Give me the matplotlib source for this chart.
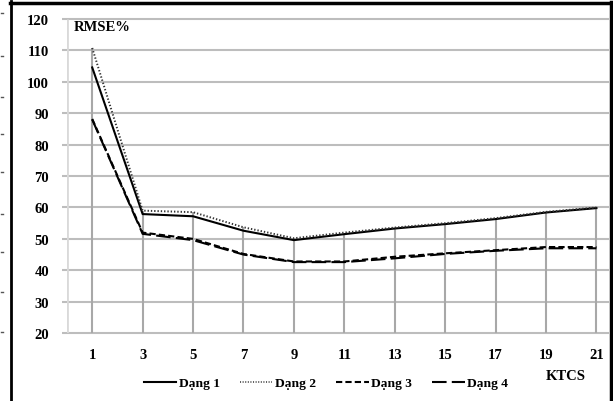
import matplotlib
matplotlib.use("Agg")
import matplotlib.pyplot as plt
from matplotlib.lines import Line2D

# KTCS values and RMSE% per form
ktcs = [1, 3, 5, 7, 9, 11, 13, 15, 17, 19, 21]
dang1 = [104.6, 57.9, 57.2, 52.6, 49.6, 51.5, 53.3, 54.7, 56.3, 58.4, 59.8]
dang2 = [110.8, 59.0, 58.5, 53.7, 50.2, 52.0, 53.6, 55.0, 56.6, 58.6, 60.0]
dang3 = [88.2, 52.0, 50.0, 45.2, 42.8, 42.8, 44.3, 45.4, 46.4, 47.4, 47.4]
dang4 = [88.0, 51.6, 49.6, 45.0, 42.6, 42.6, 43.8, 45.2, 46.2, 47.0, 47.0]
labels = ["Dạng 1", "Dạng 2", "Dạng 3", "Dạng 4"]
y_ticks = list(range(20, 121, 10))

plt.rcParams['font.family'] = ['Liberation Serif', 'DejaVu Serif']
plt.rcParams['font.weight'] = 'bold'

fig = plt.figure(figsize=(6.13, 4.02), dpi=100)
ax = fig.add_axes([0.1093, 0.169, 0.8842, 0.781])

# horizontal gridlines, a little past the left edge
ax.hlines(y_ticks, -0.2, 21.5, colors='#bdbdbd', linewidth=1.5, clip_on=False, zorder=1)
# value axis line
ax.vlines(0, 20, 120, colors='#d9d9d9', linewidth=2, zorder=1)
# drop lines from the highest series down to the axis
tops = [max(v) for v in zip(dang1, dang2, dang3, dang4)]
ax.vlines(ktcs, 20, tops, colors='#a8a8a8', linewidth=1.5, zorder=1)

ax.plot(ktcs, dang1, color='black', lw=1.5, ls='-', label=labels[0], zorder=3)
ax.plot(ktcs, dang2, color='#333333', lw=1.4, ls=(0, (0.7, 1.0)), label=labels[1], zorder=3)
ax.plot(ktcs, dang3, color='black', lw=1.5, ls=(0, (3, 1.5)), label=labels[2], zorder=3)
ax.plot(ktcs, dang4, color='black', lw=1.5, ls=(0, (7, 2.5)), label=labels[3], zorder=3)

ax.set_xlim(0, 21.5)
ax.set_ylim(20, 120)
ax.set_xticks(ktcs)
ax.set_yticks(y_ticks)
ax.tick_params(axis='both', length=0, labelsize=10.5)
ax.tick_params(axis='y', pad=13)
ax.tick_params(axis='x', pad=11)
for s in ax.spines.values():
    s.set_visible(False)

ax.text(0.25, 117.5, "RMSE%", fontsize=10.5, fontweight='bold', va='center', ha='left')
fig.text(566 / 613, 1 - 377 / 402, "KTCS", fontsize=10.5, fontweight='bold', ha='center', va='center')

leg_handles = [
    Line2D([], [], color='black', lw=1.5, ls='-'),
    Line2D([], [], color='#333333', lw=1.1, ls=(0, (0.7, 1.0))),
    Line2D([], [], color='black', lw=1.5, ls=(0, (3, 1.5))),
    Line2D([], [], color='black', lw=1.5, ls=(0, (7, 2.5))),
]
fig.legend(leg_handles, labels, loc='center', bbox_to_anchor=(0.532, 1 - 384 / 402), ncol=4,
           frameon=False, fontsize=9.7, handlelength=2.4, handletextpad=0.2, columnspacing=1.5)

# outer frame
fig.add_artist(Line2D([11 / 613, 11 / 613], [0, 1 - 2 / 402], color='black', lw=2, transform=fig.transFigure))
fig.add_artist(Line2D([10 / 613, 1], [1 - 3.5 / 402, 1 - 3.5 / 402], color='black', lw=2.5, transform=fig.transFigure))
fig.add_artist(Line2D([611 / 613, 611 / 613], [0, 1 - 3 / 402], color='black', lw=2.5, transform=fig.transFigure))
# marks cut off at the left border
for yp in [14, 57, 98, 135, 173, 215, 253, 293, 333]:
    fig.add_artist(Line2D([1 / 613, 3 / 613], [1 - yp / 402, 1 - yp / 402], color='#555555', lw=1,
                          transform=fig.transFigure))

fig.savefig("out.png", dpi=100)
